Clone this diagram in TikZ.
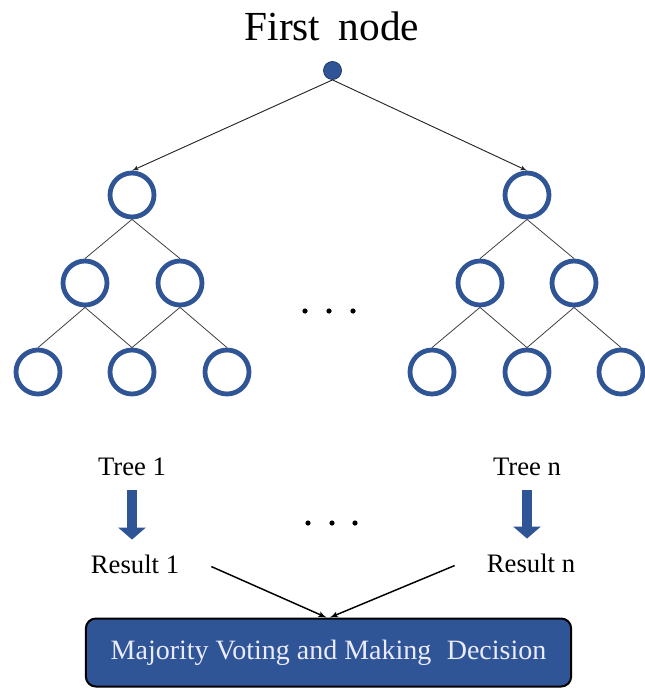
\documentclass[tikz,border=0pt]{standalone}
\usepackage{fontspec}
\setmainfont{Liberation Serif}
\usetikzlibrary{arrows, arrows.meta, positioning}
\definecolor{nodeblue}{RGB}{47,85,151}

\begin{document}
\begin{tikzpicture}[
    x=0.75pt, y=-0.75pt,
    >=latex',
    treenode/.style={circle, draw=nodeblue, line width=3.6pt, minimum size=33pt, inner sep=0pt},
    rootnode/.style={circle, draw=nodeblue!70!black, fill=nodeblue, line width=0.6pt, minimum size=13.5pt, inner sep=0pt},
    lbl/.style={font=\fontsize{20}{22}\selectfont, anchor=base, inner sep=2pt},
    decision/.style={rectangle, draw=black, line width=1.5pt, fill=nodeblue, rounded corners=7.5pt, minimum width=364pt, minimum height=51pt, text=white!92!blue, font=\fontsize{21}{24}\selectfont},
    link/.style={draw=black!75, line width=0.6pt},
    rootarrow/.style={->, draw=black!85, line width=0.7pt},
    blockarrow/.style={draw=nodeblue, line width=7.5pt, -{Triangle[width=20.25pt, length=9pt]}, shorten <=9pt, shorten >=9pt},
    votearrow/.style={->, line width=1.1pt}
]
\useasboundingbox (0,0) rectangle (645,688);

% 根节点
\node[font=\fontsize{31}{34}\selectfont, anchor=base] (title) at (332,41) {First\hspace{0.2em} node};
\node[rootnode] (root) at (332.5,70.5) {};

% 左边的树
\node[treenode] (a0) at (132,195) {};
\node[treenode] (a1) at (85,283) {};
\node[treenode] (a2) at (180,283) {};
\node[treenode] (a3) at (38,372) {};
\node[treenode] (a4) at (132,372) {};
\node[treenode] (a5) at (227,372) {};

% 右边的树
\node[treenode] (b0) at (527,195) {};
\node[treenode] (b1) at (480,283) {};
\node[treenode] (b2) at (574,283) {};
\node[treenode] (b3) at (432,372) {};
\node[treenode] (b4) at (527,372) {};
\node[treenode] (b5) at (621,372) {};

% 连接线
\draw[rootarrow] (root.south) -- (a0.north);
\draw[rootarrow] (root.south) -- (b0.north);

\draw[link] (a0.south) -- (a1.north);
\draw[link] (a0.south) -- (a2.north);
\draw[link] (a1.south) -- (a3.north);
\draw[link] (a1.south) -- (a4.north);
\draw[link] (a2.south) -- (a4.north);
\draw[link] (a2.south) -- (a5.north);

\draw[link] (b0.south) -- (b1.north);
\draw[link] (b0.south) -- (b2.north);
\draw[link] (b1.south) -- (b3.north);
\draw[link] (b1.south) -- (b4.north);
\draw[link] (b2.south) -- (b4.north);
\draw[link] (b2.south) -- (b5.north);

% 省略号
\foreach \x in {305,329,353} \fill (\x,311) circle (2.6);
\foreach \x in {308,332,355} \fill (\x,523) circle (2.6);

% 结果
\node[lbl] (tree1) at (132,475) {Tree 1};
\node[lbl] (treen) at (527,475) {Tree n};
\node[lbl] (res1) at (135,573) {Result 1};
\node[lbl] (resn) at (531,572) {Result n};

\draw[blockarrow] (tree1.south) -- (res1.north -| tree1.south);
\draw[blockarrow] (treen.south) -- (resn.north -| treen.south);

% 投票
\node[decision] (vote) at (328.5,652.5) {Majority Voting and Making\hspace{0.3em} Decision};

\draw[votearrow] ([xshift=22pt, yshift=-2pt]res1.east) -- ([xshift=-1.5pt]vote.north);
\draw[votearrow] ([xshift=-22pt, yshift=-2pt]resn.west) -- ([xshift=1pt]vote.north);

\end{tikzpicture}
\end{document}
